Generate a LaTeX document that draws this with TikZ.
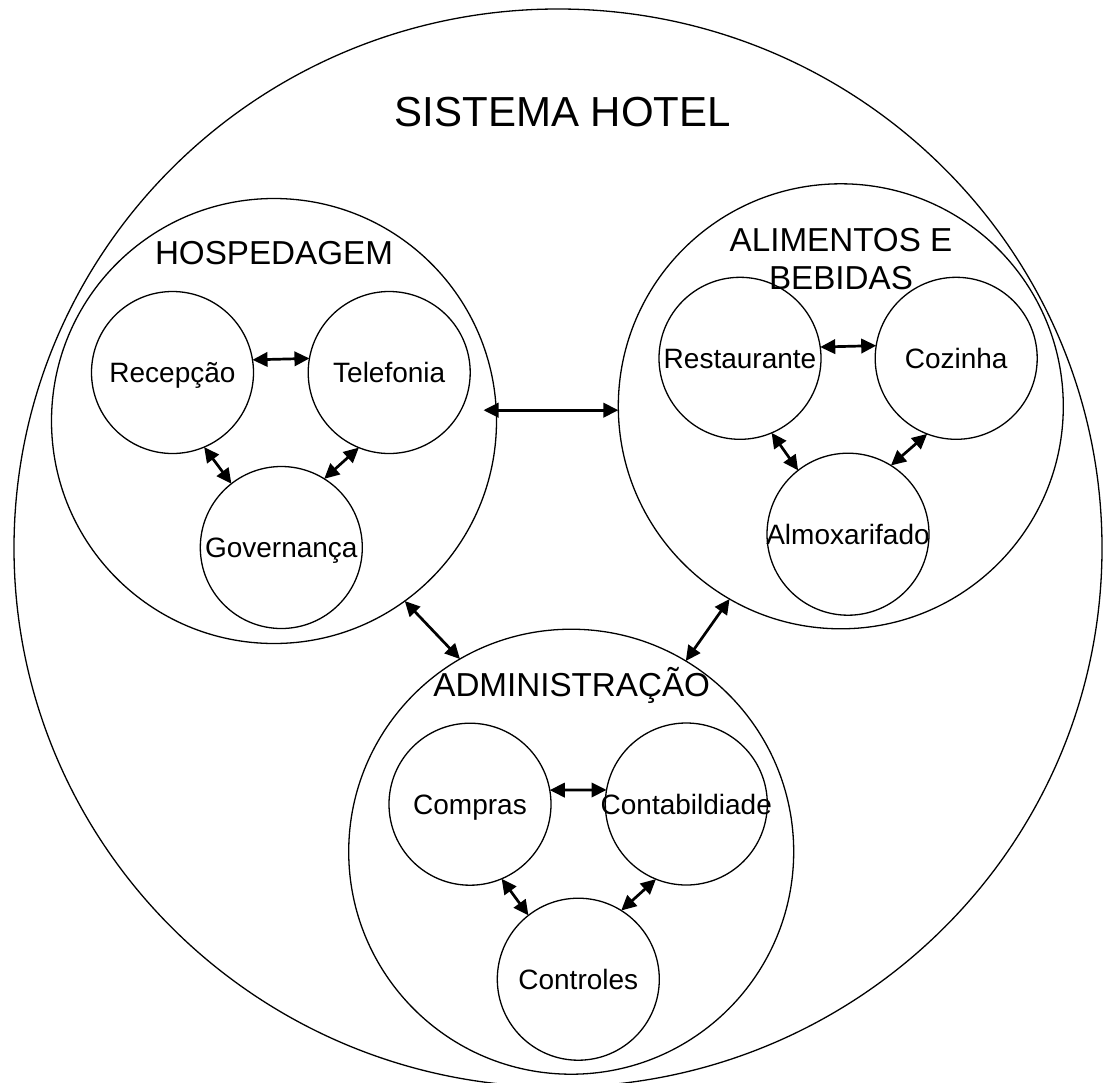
\documentclass[tikz,border=0pt]{standalone}
\usepackage{fontspec}
\setmainfont{Liberation Sans}
\usetikzlibrary{arrows.meta}
\begin{document}
\begin{tikzpicture}[x=0.5pt,y=-0.5pt,
  ring/.style={draw, line width=0.65pt},
  unit/.style={ring, circle, inner sep=0pt, outer sep=0pt, minimum size=81pt,
    font=\fontsize{14}{17}\selectfont, text height=10pt, text depth=0pt},
  area/.style={ring, circle, inner sep=0pt, outer sep=0pt, minimum size=222.5pt},
  areatitle/.style={anchor=base, inner sep=0pt, font=\fontsize{16.6}{19}\selectfont},
  link/.style={line width=1.35pt,
    {Triangle[length=7.5pt,width=7.2pt]}-{Triangle[length=7.5pt,width=7.2pt]}},
]
\clip (0,0) rectangle (1103,1082);

% whole hotel system
\draw[ring] (558,548) ellipse [x radius=544, y radius=539];
\node[anchor=base, inner sep=0pt, font=\fontsize{21}{25}\selectfont] (title) at (563,126.7) {SISTEMA HOTEL};

% the three areas
\node[area] (hosp)  at (274,421)     {};
\node[area] (alim)  at (840.8,406.3) {};
\node[area] (admin) at (571.2,851.7) {};
\node[areatitle] (hosp-t)   at (274,264)   {HOSPEDAGEM};
\node[areatitle] (alim-t1)  at (841,251)   {ALIMENTOS E};
\node[areatitle] (alim-t2)  at (841,289)   {BEBIDAS};
\node[areatitle] (admin-t)  at (571.7,696.7) {ADMINISTRAÇÃO};

% units of each area
\node[unit] (rec)  at (172.5,372.5) {\makebox[0pt]{Recepção}};
\node[unit] (tel)  at (389.2,372.5) {\makebox[0pt]{Telefonia}};
\node[unit] (gov)  at (281.3,547.5) {\makebox[0pt]{Governança}};

\node[unit] (rest) at (740,358.3)   {\makebox[0pt]{Restaurante}};
\node[unit] (coz)  at (956.2,358.3) {\makebox[0pt]{Cozinha}};
\node[unit] (alm)  at (848,534.2)   {\makebox[0pt]{Almoxarifado}};

\node[unit] (comp) at (470,804.2)   {\makebox[0pt]{Compras}};
\node[unit] (cont) at (686.3,804)   {\makebox[0pt]{Contabildiade}};
\node[unit] (ctrl) at (578.3,979.2) {\makebox[0pt]{Controles}};

% links inside the areas
\draw[link] (rec.9.5)   -- (tel.170.5);
\draw[link] (rec.-67.3) -- (gov.128.7);
\draw[link] (tel.-112)  -- (gov.58.5);

\draw[link] (rest.8.8)   -- (coz.171.2);
\draw[link] (rest.-67.7) -- (alm.128.1);
\draw[link] (coz.-111.5) -- (alm.58.5);

\draw[link] (comp.10)    -- (cont.170);
\draw[link] (comp.-67.2) -- (ctrl.128.3);
\draw[link] (cont.-112.5) -- (ctrl.58.7);

% links between the areas
\draw[link] ([xshift=-6.5pt]hosp.east |- alim.181.7) -- (alim.181.7);
\draw[link] (hosp.-54.4)  -- (admin.120.3);
\draw[link] (alim.-120.2) -- (admin.59.6);
\end{tikzpicture}
\end{document}
